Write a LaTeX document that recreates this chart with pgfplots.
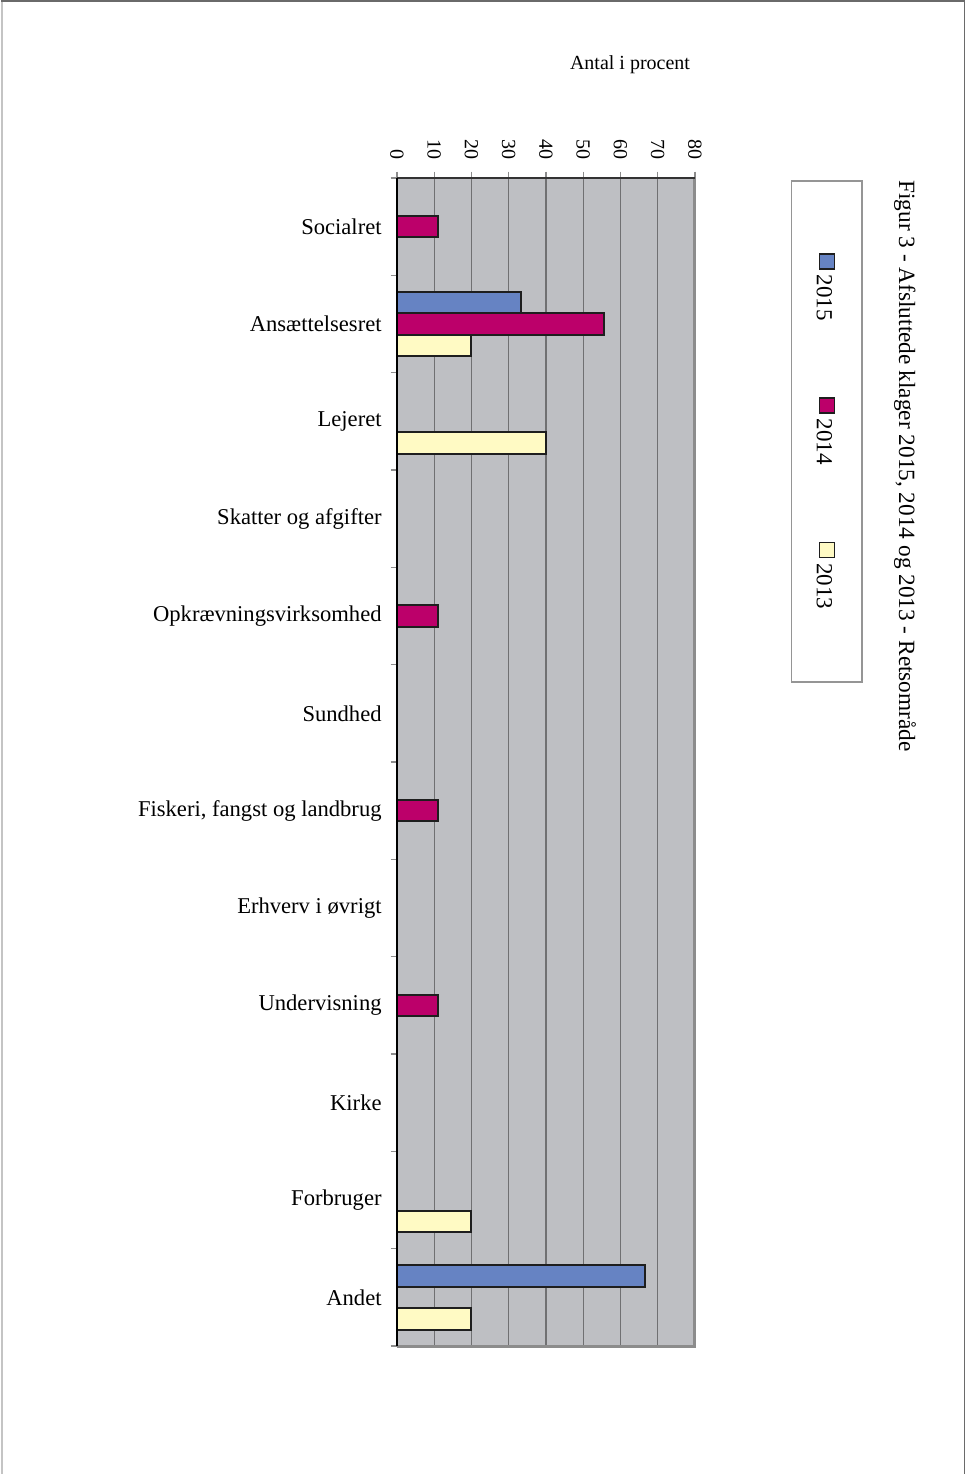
\documentclass[border=0pt]{standalone}
\usepackage{fontspec}
\setmainfont{Liberation Serif}
\usepackage{pgfplots}
\pgfplotsset{compat=1.18}
\definecolor{bg}{HTML}{BEBFC3}
\definecolor{gridc}{HTML}{707072}
\definecolor{cA}{HTML}{6683C3}
\definecolor{cB}{HTML}{BC006A}
\definecolor{cC}{HTML}{FFFAC4}
\definecolor{edge}{HTML}{1E1E1E}
\definecolor{tickgray}{HTML}{8C8C8C}
\definecolor{framec}{HTML}{6A6A6A}
\definecolor{framel}{HTML}{C4C4C4}
\definecolor{legframe}{HTML}{959595}
\begin{document}
\begin{tikzpicture}
\useasboundingbox (0,0) rectangle (483bp,-737bp);
\draw[color=framel, line width=1bp] (0.8bp,-737bp) -- (0.8bp,-1bp);
\draw[color=framec, line width=0.8bp] (0.4bp,-0.6bp) -- (482.3bp,-0.6bp) -- (482.3bp,-737bp);
\begin{axis}[
  at={(198.5bp,-89bp)}, anchor=north west,
  scale only axis, width=149bp, height=584bp,
  xbar, bar width=10.75bp,
  xmin=0, xmax=80, ymin=-0.5, ymax=11.5,
  xtick={0,10,...,80}, xticklabel pos=right, xtick pos=right,
  minor xtick={0,10,...,80},
  ytick={0,...,11},
  yticklabels={Andet,Forbruger,Kirke,Undervisning,Erhverv i øvrigt,{Fiskeri, fangst og landbrug},Sundhed,Opkrævningsvirksomhed,Skatter og afgifter,Lejeret,Ansættelsesret,Socialret},
  minor ytick={-0.5,0.5,...,11.5},
  major tick length=0pt, minor tick length=3.2bp,
  tick align=outside, ytick pos=left,
  minor tick style={draw=tickgray, line width=0.6bp},
  xmajorgrids, major grid style={draw=gridc, line width=0.6bp},
  axis background/.style={fill=bg},
  axis line style={draw=none},
  /pgf/number format/assume math mode=true,
  xticklabel style={font=\fontsize{10bp}{12bp}\selectfont, inner sep=0pt, rotate=-90, anchor=east},
  xticklabel shift=9bp,
  yticklabel style={font=\fontsize{11.3bp}{13bp}\selectfont, inner sep=0pt},
  yticklabel shift=7.5bp,
  every axis plot post/.append style={
    legend image code/.code={%
      \draw[#1, line width=0.7bp, overlay] (-1.25bp,2.5bp) rectangle (6.25bp,10bp);
      \path[draw=none, fill=none] (0bp,2.5bp) -- (0bp,10bp);}},
  legend columns=1,
  legend style={at={(1.443,0.78296)}, anchor=center, draw=legframe, line width=0.7bp, fill=white,
    font=\fontsize{11.5bp}{13bp}\selectfont, inner xsep=15bp, inner ysep=36.5bp,
    column sep=-3.95bp, row sep=38.75bp,
    nodes={inner sep=0pt, rotate=-90},
    cells={anchor=west}},
  after end axis/.code={
    \draw[tickgray, line width=1.5bp] (rel axis cs:0,0) -- (rel axis cs:1,0) -- (rel axis cs:1,1);
    \draw[black!80, line width=0.8bp] (rel axis cs:0,1) -- (rel axis cs:1,1);
    \draw[black, line width=0.8bp] (rel axis cs:0,0) -- (rel axis cs:0,1);
  },
]
\addplot[fill=cA, draw=edge, line width=1bp, bar shift=10.75bp] coordinates {(33.3,10) (66.7,0)};
\addplot[fill=cB, draw=edge, line width=1bp, bar shift=0bp] coordinates {(11.1,11) (55.6,10) (11.1,7) (11.1,5) (11.1,3)};
\addplot[fill=cC, draw=edge, line width=1bp, bar shift=-10.75bp] coordinates {(20,10) (40,9) (20,1) (20,0)};
\legend{2015,2014,2013}
\end{axis}
\node[font=\fontsize{10bp}{12bp}\selectfont] at (315bp,-32.5bp) {Antal i procent};
\node[font=\fontsize{11.65bp}{13bp}\selectfont, rotate=-90, anchor=west, inner sep=0pt] at (452.5bp,-90bp) {Figur 3 - Afsluttede klager 2015, 2014 og 2013 - Retsområde};
\end{tikzpicture}
\end{document}
